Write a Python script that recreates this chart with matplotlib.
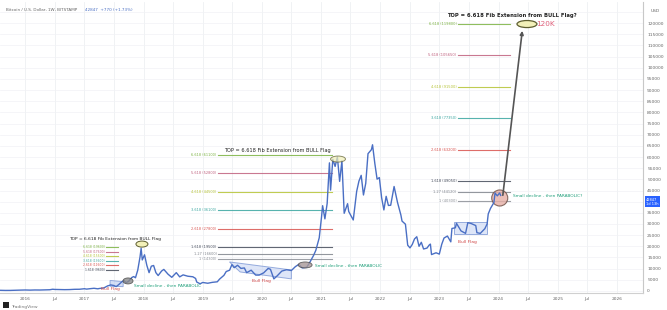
import matplotlib
matplotlib.use("Agg")
import matplotlib.pyplot as plt
import matplotlib.dates as mdates
from matplotlib.patches import Ellipse, Polygon
import pandas as pd

# Bitcoin weekly closes (approx.)
dates = [
    "2015-08-01", "2015-09-01", "2015-10-01", "2015-11-01", "2015-12-01",
    "2016-01-01", "2016-02-01", "2016-03-01", "2016-04-01", "2016-05-01", "2016-06-01",
    "2016-06-19", "2016-07-01", "2016-08-01", "2016-09-01", "2016-10-01", "2016-11-01",
    "2016-12-01", "2017-01-01", "2017-01-15", "2017-02-01", "2017-03-01", "2017-03-25",
    "2017-04-01", "2017-05-01", "2017-05-25", "2017-06-01", "2017-06-12", "2017-07-01",
    "2017-07-16", "2017-08-01", "2017-08-20", "2017-09-01", "2017-09-15", "2017-10-01",
    "2017-10-20", "2017-11-01", "2017-11-12", "2017-11-26", "2017-12-10", "2017-12-17",
    "2017-12-24", "2018-01-07", "2018-01-21", "2018-02-04", "2018-02-18", "2018-03-04",
    "2018-03-18", "2018-04-01", "2018-04-22", "2018-05-06", "2018-06-01", "2018-06-24",
    "2018-07-22", "2018-08-12", "2018-09-02", "2018-10-01", "2018-11-01", "2018-11-18",
    "2018-11-25", "2018-12-16", "2019-01-01", "2019-02-01", "2019-03-01", "2019-04-01",
    "2019-04-15", "2019-05-12", "2019-05-26", "2019-06-16", "2019-06-30", "2019-07-14",
    "2019-08-04", "2019-08-25", "2019-09-15", "2019-09-29", "2019-10-27", "2019-11-24",
    "2019-12-15", "2020-01-12", "2020-02-09", "2020-02-23", "2020-03-15", "2020-04-05",
    "2020-05-03", "2020-06-01", "2020-07-01", "2020-07-26", "2020-08-16", "2020-09-06",
    "2020-10-04", "2020-10-25", "2020-11-15", "2020-11-29", "2020-12-20", "2021-01-03",
    "2021-01-10", "2021-01-24", "2021-02-07", "2021-02-21", "2021-02-28", "2021-03-14",
    "2021-03-28", "2021-04-11", "2021-04-25", "2021-05-09", "2021-05-23", "2021-06-13",
    "2021-06-20", "2021-07-18", "2021-08-08", "2021-08-22", "2021-09-05", "2021-09-19",
    "2021-10-03", "2021-10-17", "2021-11-07", "2021-11-14", "2021-11-28", "2021-12-12",
    "2021-12-26", "2022-01-09", "2022-01-23", "2022-02-06", "2022-02-20", "2022-03-06",
    "2022-03-27", "2022-04-17", "2022-05-08", "2022-05-15", "2022-06-05", "2022-06-19",
    "2022-07-03", "2022-07-17", "2022-07-31", "2022-08-14", "2022-08-28", "2022-09-11",
    "2022-09-25", "2022-10-16", "2022-10-30", "2022-11-06", "2022-11-13", "2022-12-11",
    "2022-12-31", "2023-01-15", "2023-01-29", "2023-02-19", "2023-03-12", "2023-03-19",
    "2023-04-09", "2023-04-16", "2023-05-14", "2023-06-11", "2023-06-25", "2023-07-16",
    "2023-08-13", "2023-08-20", "2023-09-10", "2023-10-08", "2023-10-22", "2023-10-29",
    "2023-11-12", "2023-12-03", "2023-12-10", "2023-12-24", "2024-01-07", "2024-01-14",
]
prices = [
    280, 230, 238, 320, 370,
    430, 370, 435, 415, 450, 535,
    760, 675, 620, 575, 610, 730,
    755, 990, 820, 980, 1190, 950,
    1080, 1350, 2300, 2400, 2700, 2450,
    1950, 2850, 4100, 4700, 3700, 4350,
    6000, 6450, 5900, 9300, 15200, 19100,
    13900, 16200, 11500, 8200, 11100, 11400,
    8200, 6900, 8900, 9650, 7500, 6100,
    8200, 6300, 7200, 6600, 6350, 5600,
    4000, 3200, 3800, 3450, 3850, 4100,
    5300, 7000, 8700, 9300, 11800, 10400,
    11500, 10100, 10300, 8200, 9300, 7100,
    7100, 8100, 10100, 9700, 5400, 6800,
    8900, 9500, 9150, 10900, 11900, 10300,
    10600, 13100, 15900, 18200, 23800, 33000,
    38200, 32300, 39200, 57400, 45200, 59000,
    55800, 60000, 49100, 58300, 34800, 39100,
    35600, 31800, 44600, 49200, 51800, 43000,
    48200, 61500, 63300, 65500, 57200, 50100,
    50800, 41800, 36300, 42400, 38300, 38400,
    46800, 39700, 34000, 31300, 29900, 20500,
    19300, 20800, 23300, 24300, 20000, 21800,
    18800, 19200, 20600, 21000, 16300, 17100,
    16500, 20900, 23700, 24600, 22000, 28000,
    28300, 30300, 26900, 25800, 30600, 30200,
    29300, 26100, 25800, 27900, 30000, 34500,
    37000, 39600, 43900, 42600, 43900, 42800,
]

# Fibonacci extension levels (three drawings)
fib_levels = ["6.618", "5.618", "4.618", "3.618", "2.618", "1.618", "1.27", "1"]
fib_colors = ["#7cb342", "#c0607e", "#b5c334", "#3aa6a0", "#d9534f", "#454c5a", "#80858d", "#8c9097"]
left_fib = [19600, 17600, 15600, 13600, 11600, 9600]
mid_fib = [61100, 52800, 44500, 36100, 27800, 19500, 16600, 14300]
right_fib = [119800, 105650, 91500, 77350, 63200, 49050, 44120, 40300]

year_ticks = list(range(2016, 2027))
price_ticks = [p for p in range(0, 125000, 5000) if p != 40000]
last_price = "42847"

d = pd.to_datetime(dates)
T = lambda s: mdates.date2num(pd.Timestamp(s))

fig = plt.figure(figsize=(6.67, 3.10), dpi=100)
ax = fig.add_axes([0.0, 0.055, 0.964, 0.938])

# grid
for y in range(2016, 2027):
    for m in (1, 7):
        ax.axvline(T(f"{y}-{m:02d}-01"), color="#eef0f3", lw=0.6, zorder=0)
for p in range(0, 130000, 5000):
    ax.axhline(p, color="#f1f2f5", lw=0.5, zorder=0)

ax.plot(d, prices, color="#4a6fc4", lw=1.0, zorder=3)


def fib_group(levels_px, start, end, fs):
    for lvl, p, c in zip(fib_levels, levels_px, fib_colors):
        ax.plot([T(start), T(end)], [p, p], color=c, lw=0.8, alpha=0.85, zorder=2)
        ax.text(T(start) - 8, p, f"{lvl} ({p})", color=c, fontsize=fs,
                ha="right", va="center", zorder=4)


fib_group(left_fib, "2017-05-15", "2017-07-27", 2.2)
fib_group(mid_fib, "2019-04-05", "2021-03-10", 2.5)
fib_group(right_fib, "2023-04-24", "2024-03-10", 2.6)

# bull flags
ax.add_patch(Polygon([(T("2017-06-08"), 4700), (T("2017-08-28"), 4200),
                      (T("2017-08-28"), 1900), (T("2017-06-08"), 2100)],
                     closed=True, fc="#b8c8f0", ec="#4a6fc4", lw=0.6, alpha=0.6, zorder=2))
ax.add_patch(Polygon([(T("2019-06-15"), 13000), (T("2020-07-01"), 9400),
                      (T("2020-07-01"), 5400), (T("2019-08-20"), 8500)],
                     closed=True, fc="#c4d2f4", ec="#4a6fc4", lw=0.7, alpha=0.55, zorder=2))
ax.add_patch(Polygon([(T("2023-04-01"), 30800), (T("2023-10-20"), 30800),
                      (T("2023-10-20"), 25500), (T("2023-04-01"), 25500)],
                     closed=True, fc="#c4d2f4", ec="#4a6fc4", lw=0.7, alpha=0.55, zorder=2))
ax.text(T("2017-06-10"), 900, "Bull Flag", color="#d04848", fontsize=3.2, ha="center", va="center")
ax.text(T("2020-01-01"), 4480, "Bull Flag", color="#d04848", fontsize=3.2, ha="center", va="center")
ax.text(T("2023-06-25"), 21900, "Bull Flag", color="#d04848", fontsize=3.2, ha="center", va="center")

# small decline ellipses
ax.add_patch(Ellipse((T("2017-09-27"), 4480), 62, 2700, fc="#8a8a8a", ec="#444", lw=0.6, alpha=0.8, zorder=4))
ax.add_patch(Ellipse((T("2020-09-24"), 11640), 86, 2700, fc="#a89898", ec="#444", lw=0.6, alpha=0.8, zorder=4))
ax.add_patch(Ellipse((T("2024-01-08"), 41650), 99, 7200, fc="#e6b0a6", ec="#6a4a40", lw=0.8, alpha=0.8, zorder=2))
ax.text(T("2017-11-05"), 2240, "Small decline - then PARABOLIC", color="#23a07c", fontsize=3.1, va="center")
ax.text(T("2020-11-25"), 11200, "Small decline - then PARABOLIC", color="#23a07c", fontsize=3.1, va="center")
ax.text(T("2024-03-27"), 42540, "Small decline - then PARABOLIC?", color="#23a07c", fontsize=3.1, va="center")

# top ellipses + titles
ax.add_patch(Ellipse((T("2017-12-22"), 21000), 74, 2700, fc="#f2f0b8", ec="#5e5e30", lw=0.7, zorder=4))
ax.add_patch(Ellipse((T("2021-04-15"), 59100), 92, 2700, fc="#f2f0b8", ec="#5e5e30", lw=0.7, alpha=0.7, zorder=4))
ax.add_patch(Ellipse((T("2024-06-24"), 119600), 123, 3150, fc="#f2f0b8", ec="#5e5e30", lw=0.9, zorder=4))
ax.text(T("2017-07-10"), 23200, "TOP = 6.618 Fib Extension from BULL Flag", color="#222",
        fontsize=3.2, ha="center", va="center")
ax.text(T("2020-04-05"), 63100, "TOP = 6.618 Fib Extension from BULL Flag", color="#222",
        fontsize=3.6, ha="center", va="center")
ax.text(T("2024-03-25"), 123600, "TOP = 6.618 Fib Extension from BULL Flag?", color="#222",
        fontsize=3.8, fontweight="bold", ha="center", va="center")
ax.text(T("2024-08-20"), 119600, "120K", color="#e0607a", fontsize=5.2, va="center")

ax.annotate("", xy=(T("2024-05-28"), 117800), xytext=(T("2024-01-25"), 41650),
            arrowprops=dict(arrowstyle="-|>", color="#555", lw=1.2, mutation_scale=5), zorder=5)

# axes
ax.set_xlim(T("2015-07-30"), T("2026-06-10"))
ax.set_ylim(-900, 129400)
xt, xl = [], []
for y in year_ticks:
    xt.append(T(f"{y}-01-01")); xl.append(str(y))
    xt.append(T(f"{y}-07-01")); xl.append("Jul")
ax.set_xticks(xt[:-1])
ax.set_xticklabels(xl[:-1])
ax.yaxis.tick_right()
ax.set_yticks(price_ticks)
ax.set_yticklabels([str(p) for p in price_ticks])
ax.tick_params(axis="both", length=0, labelsize=3.2, labelcolor="#666", pad=3)
for s in ("top", "left"):
    ax.spines[s].set_visible(False)
ax.spines["right"].set_color("#c8c8c8")
ax.spines["bottom"].set_color("#d0d0d0")
ax.text(1.012, 125400, "USD", transform=ax.get_yaxis_transform(), fontsize=3.2, color="#666", va="center")
ax.text(1.005, 40000, last_price + "\n1d 13h", transform=ax.get_yaxis_transform(), fontsize=2.6,
        color="white", va="center", ha="left", linespacing=1.1,
        bbox=dict(boxstyle="square,pad=0.3", fc="#2962ff", ec="none"))

fig.text(0.009, 0.963, "Bitcoin / U.S. Dollar, 1W, BITSTAMP", fontsize=3.0, color="#666")
fig.text(0.127, 0.963, last_price + "  +770 (+1.73%)", fontsize=3.0, color="#4a6fc4")
fig.patches.append(plt.Rectangle((0.005, 0.006), 0.009, 0.02, transform=fig.transFigure,
                                 fc="#222", ec="none", figure=fig))
fig.text(0.017, 0.008, "TradingView", fontsize=3.2, color="#777")

fig.savefig("out.png", dpi=100, facecolor="white")
